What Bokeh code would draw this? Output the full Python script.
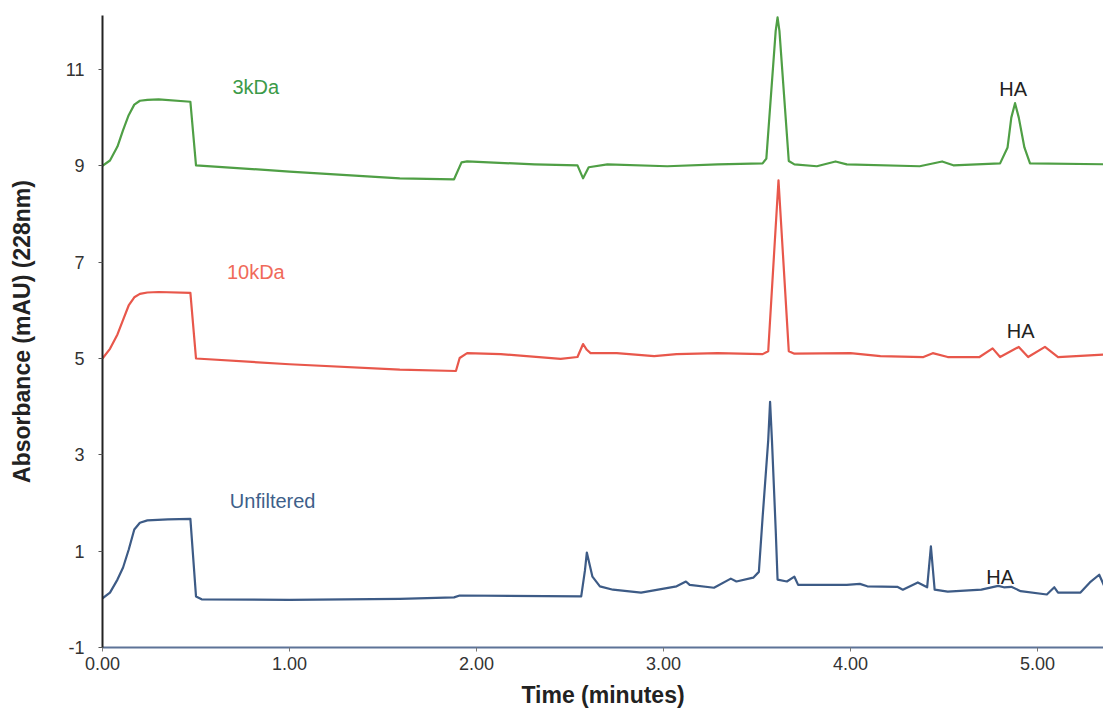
from bokeh.plotting import figure
from bokeh.models import FixedTicker, Range1d, Label, CustomJSTickFormatter
from bokeh.embed import file_html
from bokeh.resources import INLINE

# ---- data (time in minutes, absorbance in mAU) ----
unf_t = [0.00, 0.04, 0.08, 0.11, 0.14, 0.17, 0.20, 0.24, 0.35, 0.47, 0.50, 0.53, 1.00, 1.59, 1.88, 1.91,
         2.56, 2.58, 2.59, 2.62, 2.66, 2.73, 2.88, 3.07, 3.12, 3.14, 3.27, 3.36, 3.39, 3.48, 3.51,
         3.53, 3.56, 3.57, 3.58, 3.60, 3.61, 3.66, 3.70, 3.72, 3.98, 4.05, 4.09, 4.25, 4.28, 4.36,
         4.41, 4.43, 4.45, 4.52, 4.70, 4.79, 4.82, 4.86, 4.91, 5.05, 5.09, 5.11, 5.23, 5.28, 5.33,
         5.36, 5.40]
unf_y = [0.02, 0.14, 0.41, 0.66, 1.03, 1.45, 1.59, 1.64, 1.66, 1.67, 0.06, 0.00, -0.01, 0.01, 0.04, 0.08,
         0.06, 0.60, 0.97, 0.47, 0.27, 0.20, 0.14, 0.27, 0.37, 0.30, 0.24, 0.43, 0.37, 0.45, 0.57,
         1.70, 3.30, 4.10, 3.30, 1.45, 0.41, 0.37, 0.47, 0.30, 0.30, 0.32, 0.27, 0.26, 0.20, 0.35,
         0.25, 1.10, 0.20, 0.16, 0.20, 0.28, 0.25, 0.26, 0.17, 0.10, 0.25, 0.14, 0.14, 0.35, 0.51,
         0.25, 0.27]

k10_t = [0.00, 0.04, 0.08, 0.11, 0.14, 0.17, 0.20, 0.24, 0.30, 0.47, 0.50, 1.00, 1.59, 1.89, 1.91, 1.95, 2.13,
         2.45, 2.54, 2.57, 2.59, 2.61, 2.75, 2.95, 3.07, 3.29, 3.53, 3.56, 3.615, 3.67, 3.70, 4.00,
         4.16, 4.39, 4.44, 4.52, 4.69, 4.76, 4.80, 4.90, 4.95, 5.04, 5.11, 5.40]
k10_y = [5.00, 5.20, 5.50, 5.80, 6.10, 6.27, 6.34, 6.37, 6.38, 6.36, 5.00, 4.88, 4.77, 4.74, 5.01, 5.11, 5.09,
         4.99, 5.03, 5.30, 5.18, 5.11, 5.11, 5.05, 5.09, 5.11, 5.09, 5.15, 8.70, 5.15, 5.10, 5.11,
         5.05, 5.03, 5.11, 5.03, 5.03, 5.21, 5.03, 5.24, 5.03, 5.24, 5.03, 5.09]

k3_t = [0.00, 0.04, 0.08, 0.11, 0.14, 0.17, 0.20, 0.24, 0.30, 0.47, 0.50, 1.00, 1.59, 1.88, 1.92, 1.95, 2.31,
        2.54, 2.57, 2.60, 2.70, 3.02, 3.29, 3.53, 3.55, 3.60, 3.61, 3.62, 3.67, 3.70, 3.82, 3.92,
        3.98, 4.37, 4.49, 4.55, 4.80, 4.84, 4.86, 4.88, 4.90, 4.93, 4.96, 5.40]
k3_y = [9.00, 9.11, 9.40, 9.74, 10.05, 10.27, 10.35, 10.37, 10.38, 10.33, 9.01, 8.88, 8.74, 8.72, 9.07, 9.09, 9.03,
        9.01, 8.74, 8.97, 9.03, 8.99, 9.03, 9.05, 9.15, 11.80, 12.08, 11.80, 9.10, 9.03, 8.99, 9.09,
        9.03, 8.99, 9.09, 9.01, 9.05, 9.38, 10.00, 10.30, 10.00, 9.38, 9.05, 9.03]

series_names = ["3kDa", "10kDa", "Unfiltered"]
series_label_pos = [(0.82, 10.63), (0.82, 6.79), (0.91, 2.05)]
ha_label_pos = [(4.87, 10.60), (4.91, 5.57), (4.80, 0.47)]
y_ticks = [-1, 1, 3, 5, 7, 9, 11]
x_ticks = [0, 1, 2, 3, 4, 5]

FONT = "Liberation Sans"

p = figure(width=1103, height=710, output_backend="svg", toolbar_location=None,
           x_range=Range1d(0, 5.353), y_range=Range1d(-1, 12.12),
           min_border_left=102, min_border_right=0, min_border_top=15, min_border_bottom=62)
p.outline_line_color = None
p.xgrid.visible = False
p.ygrid.visible = False
p.background_fill_color = "white"

p.line(k3_t, k3_y, line_color="#4f9f45", line_width=2.2, line_join="round")
p.line(k10_t, k10_y, line_color="#e8574b", line_width=2.2, line_join="round")
p.line(unf_t, unf_y, line_color="#3d5b86", line_width=2.2, line_join="round")

label_colors = ["#3b9a48", "#f06a5a", "#3e5f8a"]
for name, (lx, ly), c in zip(series_names, series_label_pos, label_colors):
    p.add_layout(Label(x=lx, y=ly, text=name, text_color=c, text_font=FONT,
                       text_font_size="20px", text_align="center", text_baseline="middle"))
for (hx, hy) in ha_label_pos:
    p.add_layout(Label(x=hx, y=hy, text="HA", text_color="#222222", text_font=FONT,
                       text_font_size="20px", text_align="center", text_baseline="middle"))

# axes
p.yaxis.ticker = FixedTicker(ticks=y_ticks)
p.xaxis.ticker = FixedTicker(ticks=x_ticks)
p.xaxis.formatter = CustomJSTickFormatter(code="return tick.toFixed(2);")
p.yaxis.formatter = CustomJSTickFormatter(code="return String(tick);")
for ax in (p.xaxis[0], p.yaxis[0]):
    ax.minor_tick_line_color = None
    ax.major_tick_in = 0
    ax.major_tick_out = 4
    ax.major_label_text_font = FONT
    ax.major_label_text_font_size = "18px"
    ax.major_label_text_color = "#333333"
    ax.axis_label_text_font = FONT
    ax.axis_label_text_font_style = "bold"
    ax.axis_label_text_font_size = "23px"
    ax.axis_label_text_color = "#222222"

p.yaxis.axis_line_color = "#222222"
p.yaxis.axis_line_width = 2
p.yaxis.major_tick_line_color = "#555555"
p.yaxis.major_label_standoff = 14
p.yaxis.axis_label = "Absorbance (mAU) (228nm)"
p.yaxis.axis_label_standoff = 28

p.xaxis.axis_line_color = "#5d7397"
p.xaxis.axis_line_width = 2
p.xaxis.major_tick_line_color = "#777777"
p.xaxis.major_label_standoff = 5
p.xaxis.axis_label = "Time (minutes)"
p.xaxis.axis_label_standoff = 9

open("out.html", "w").write(file_html(p, INLINE))
